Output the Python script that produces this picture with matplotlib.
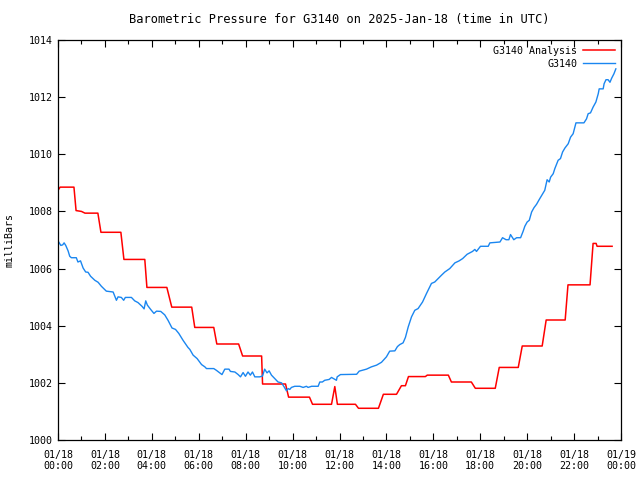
import matplotlib

matplotlib.use("Agg")
import matplotlib.pyplot as plt
from matplotlib.ticker import MultipleLocator

# hours since 2025-01-18 00:00 UTC, pressure in mb
analysis_hours = [
    0.0, 0.09, 0.68, 0.77, 1.0, 1.15, 1.70, 1.83, 2.68, 2.81, 3.70, 3.79,
    4.64, 4.85, 5.70, 5.83, 6.64, 6.77, 7.70, 7.87, 8.68, 8.72, 9.70, 9.83,
    10.72, 10.85, 11.66, 11.80, 11.91, 12.68, 12.81, 13.66, 13.87, 14.43,
    14.64, 14.81, 14.94, 15.66, 15.74, 16.64, 16.77, 17.62, 17.79, 18.64,
    18.81, 19.62, 19.79, 20.64, 20.81, 21.62, 21.74, 22.68, 22.81, 22.94,
    22.98, 23.62,
]
analysis_mb = [
    1008.74, 1008.85, 1008.85, 1008.03, 1008.00, 1007.94, 1007.94, 1007.27,
    1007.27, 1006.32, 1006.32, 1005.34, 1005.34, 1004.65, 1004.65, 1003.94,
    1003.94, 1003.36, 1003.36, 1002.94, 1002.94, 1001.96, 1001.96, 1001.50,
    1001.50, 1001.25, 1001.25, 1001.87, 1001.25, 1001.25, 1001.11, 1001.11,
    1001.60, 1001.60, 1001.90, 1001.90, 1002.22, 1002.22, 1002.27, 1002.27,
    1002.03, 1002.03, 1001.81, 1001.81, 1002.54, 1002.54, 1003.29, 1003.29,
    1004.20, 1004.20, 1005.43, 1005.43, 1006.88, 1006.88, 1006.78, 1006.78,
]

station_hours = [
    0.03, 0.12, 0.20, 0.26, 0.33, 0.43, 0.50, 0.57, 0.78, 0.85, 0.96, 1.07,
    1.18, 1.28, 1.39, 1.57, 1.71, 1.85, 2.06, 2.35, 2.49, 2.56, 2.70, 2.80,
    2.87, 3.13, 3.27, 3.41, 3.58, 3.67, 3.74, 3.81, 3.95, 4.09, 4.20, 4.38,
    4.55, 4.69, 4.86, 5.01, 5.15, 5.33, 5.54, 5.62, 5.76, 5.93, 6.12, 6.26,
    6.33, 6.64, 6.75, 6.99, 7.11, 7.29, 7.35, 7.54, 7.68, 7.78, 7.89, 7.99,
    8.10, 8.20, 8.29, 8.39, 8.60, 8.72, 8.81, 8.91, 9.00, 9.10, 9.24, 9.38,
    9.53, 9.64, 9.74, 9.81, 9.88, 9.95, 10.09, 10.31, 10.45, 10.59, 10.66,
    10.81, 11.09, 11.16, 11.27, 11.37, 11.56, 11.66, 11.87, 11.90, 12.04,
    12.73, 12.84, 13.15, 13.36, 13.58, 13.79, 14.00, 14.14, 14.36, 14.47,
    14.57, 14.71, 14.81, 14.93, 15.07, 15.21, 15.35, 15.54, 15.71, 15.92,
    16.06, 16.35, 16.49, 16.70, 16.92, 17.10, 17.25, 17.44, 17.67, 17.77,
    17.84, 18.01, 18.34, 18.41, 18.84, 18.95, 19.10, 19.22, 19.29, 19.43,
    19.55, 19.72, 19.83, 19.90, 20.00, 20.09, 20.19, 20.29, 20.40, 20.51,
    20.66, 20.75, 20.85, 20.94, 21.00, 21.11, 21.18, 21.32, 21.42, 21.51,
    21.61, 21.75, 21.85, 21.96, 22.08, 22.42, 22.53, 22.60, 22.70, 22.81,
    22.93, 23.03, 23.07, 23.24, 23.28, 23.36, 23.45, 23.53, 23.60, 23.70,
    23.78,
]
station_mb = [
    1006.93, 1006.81, 1006.83, 1006.90, 1006.81, 1006.62, 1006.43, 1006.38,
    1006.38, 1006.23, 1006.27, 1006.02, 1005.88, 1005.87, 1005.73, 1005.59,
    1005.52, 1005.38, 1005.21, 1005.18, 1004.89, 1005.01, 1004.99, 1004.89,
    1004.99, 1004.99, 1004.87, 1004.81, 1004.68, 1004.59, 1004.87, 1004.72,
    1004.57, 1004.43, 1004.51, 1004.50, 1004.38, 1004.19, 1003.92, 1003.87,
    1003.73, 1003.49, 1003.24, 1003.17, 1002.97, 1002.85, 1002.64, 1002.56,
    1002.50, 1002.50, 1002.44, 1002.29, 1002.48, 1002.48, 1002.40, 1002.38,
    1002.29, 1002.21, 1002.36, 1002.23, 1002.38, 1002.27, 1002.38, 1002.21,
    1002.21, 1002.24, 1002.48, 1002.35, 1002.42, 1002.27, 1002.15, 1002.03,
    1002.00, 1001.86, 1001.72, 1001.80, 1001.77, 1001.84, 1001.88, 1001.88,
    1001.84, 1001.88, 1001.84, 1001.88, 1001.88, 1002.03, 1002.03, 1002.09,
    1002.12, 1002.19, 1002.09, 1002.21, 1002.29, 1002.30, 1002.41, 1002.48,
    1002.56, 1002.62, 1002.72, 1002.91, 1003.11, 1003.12, 1003.27, 1003.34,
    1003.40, 1003.59, 1003.96, 1004.31, 1004.54, 1004.60, 1004.83, 1005.13,
    1005.48, 1005.53, 1005.77, 1005.88, 1006.00, 1006.20, 1006.27, 1006.35,
    1006.50, 1006.60, 1006.67, 1006.60, 1006.78, 1006.78, 1006.90, 1006.93,
    1007.08, 1007.01, 1007.01, 1007.19, 1007.01, 1007.08, 1007.08, 1007.31,
    1007.48, 1007.63, 1007.69, 1007.98, 1008.13, 1008.25, 1008.41, 1008.62,
    1008.74, 1009.11, 1009.03, 1009.20, 1009.32, 1009.50, 1009.79, 1009.85,
    1010.08, 1010.22, 1010.37, 1010.60, 1010.72, 1011.10, 1011.10, 1011.24,
    1011.42, 1011.45, 1011.65, 1011.83, 1012.12, 1012.29, 1012.29, 1012.47,
    1012.61, 1012.61, 1012.52, 1012.66, 1012.82, 1012.99,
]

tick_hours = list(range(0, 25, 2))
tick_labels = [f"01/18\n{h:02d}:00" for h in tick_hours[:-1]] + ["01/19\n00:00"]

plt.rcParams["font.family"] = ["DejaVu Sans Mono"]
plt.rcParams["font.size"] = 7.2

fig = plt.figure(figsize=(6.4, 4.8), dpi=100)
ax = fig.add_axes((58 / 640, 40 / 480, 563 / 640, 400 / 480))

ax.plot(analysis_hours, analysis_mb, color="#ff0000", linewidth=1.1, label="G3140 Analysis")
ax.plot(station_hours, station_mb, color="#1a86f0", linewidth=1.0, label="G3140")

ax.set_xlim(0, 24)
ax.set_ylim(1000, 1014)
ax.set_xticks(tick_hours)
ax.set_xticklabels(tick_labels)
ax.xaxis.set_minor_locator(MultipleLocator(1))
ax.set_yticks(range(1000, 1015, 2))
ax.tick_params(which="both", direction="in", top=True, right=True, color="black")
ax.tick_params(which="major", length=5, width=0.8, pad=4)
ax.tick_params(axis="x", which="major", pad=7)
ax.tick_params(which="minor", length=3, width=0.8)
for spine in ax.spines.values():
    spine.set_linewidth(0.9)

ax.set_ylabel("milliBars", labelpad=10)
ax.set_title("Barometric Pressure for G3140 on 2025-Jan-18 (time in UTC)", pad=12)

ax.legend(loc="upper right", frameon=False, markerfirst=False, handlelength=3.2,
          handletextpad=0.6, labelspacing=0.3, borderaxespad=0.2)

fig.savefig("out.png", dpi=100)
